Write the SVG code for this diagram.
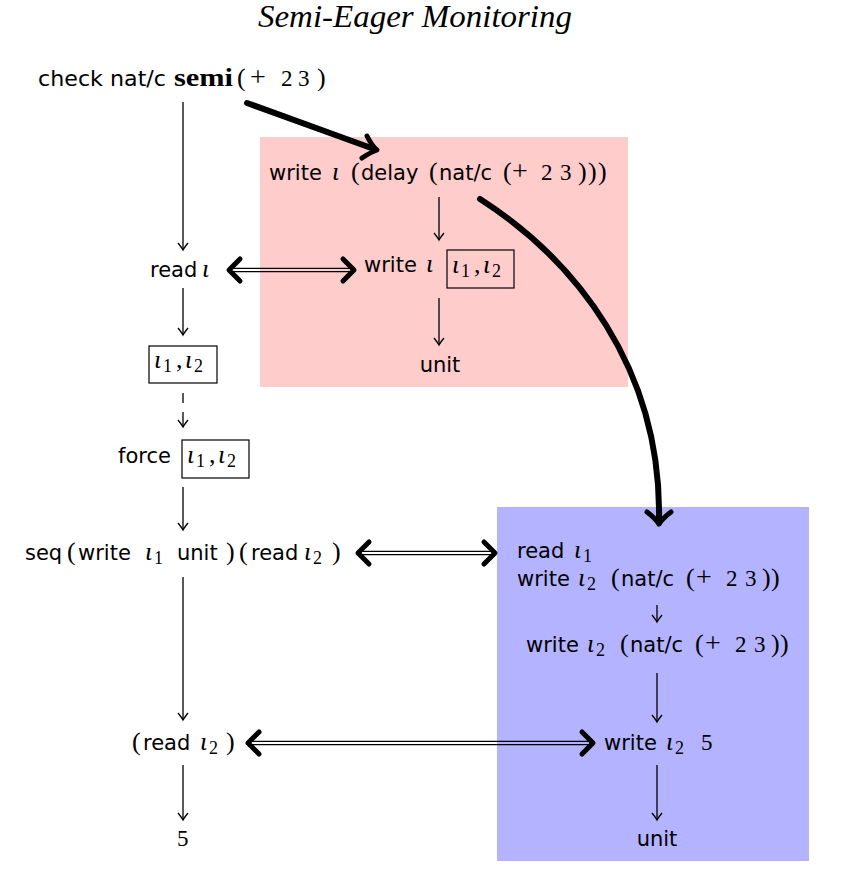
<svg xmlns="http://www.w3.org/2000/svg" width="842" height="869" viewBox="0 0 842 869">
<style>
text{fill:#000}
.t{font-family:"DejaVu Sans","Liberation Sans",sans-serif;font-size:21px}
.w{font-family:"DejaVu Sans","Liberation Sans",sans-serif;font-size:21px}
.m{font-family:"Liberation Serif","DejaVu Serif",serif;font-size:26px}
.d{font-family:"Liberation Serif","DejaVu Serif",serif;font-size:23px}
.p{font-family:"Liberation Serif","DejaVu Serif",serif;font-size:28px}
.i{font-family:"Liberation Serif","DejaVu Serif",serif;font-style:italic;font-size:26px}
.s{font-family:"Liberation Serif","DejaVu Serif",serif;font-size:18px}
.b{font-family:"Liberation Serif","DejaVu Serif",serif;font-weight:bold;font-size:25px}
.ti{font-family:"Liberation Serif","Times New Roman",serif;font-style:italic;font-size:31px}
.thin{stroke:#000;stroke-width:1.3;fill:none}
.thick{stroke:#000;stroke-width:6;fill:none;stroke-linecap:round}
.head{fill:none;stroke:#000;stroke-width:5;stroke-linecap:round;stroke-linejoin:round}
.box{fill:none;stroke:#000;stroke-width:1.2}
</style>
<defs>
<marker id="ah" viewBox="-8 -6 10 12" markerWidth="10" markerHeight="12" refX="0" refY="0" orient="auto" markerUnits="userSpaceOnUse">
<path d="M-7,-5 Q-2,-1 0,0 Q-2,1 -7,5" fill="none" stroke="#000" stroke-width="1.3"/>
</marker>
</defs>
<rect x="260" y="137" width="368" height="250" fill="#ffcccc"/>
<rect x="497" y="507" width="312" height="354" fill="#b3b3ff"/>
<text class="ti" x="258" y="27" textLength="314" lengthAdjust="spacingAndGlyphs">Semi-Eager Monitoring</text>

<g id="n-check">
<text class="t" x="38" y="86" textLength="128" lengthAdjust="spacingAndGlyphs">check nat/c</text>
<text class="b" x="174" y="86" textLength="59" lengthAdjust="spacingAndGlyphs">semi</text>
<text y="86"><tspan class="m" x="237">(</tspan><tspan class="p" x="250">+</tspan><tspan class="d" x="281">2</tspan><tspan class="d" x="298">3</tspan><tspan class="m" x="317">)</tspan></text>
</g>
<g id="n-read"><text y="277"><tspan class="w" x="150">read</tspan><tspan class="i" x="202">ι</tspan></text></g>
<g id="n-loc"><rect class="box" x="149" y="346" width="68" height="37"/><text y="368"><tspan class="i" x="154">ι</tspan><tspan class="s" x="163" y="372">1</tspan><tspan class="m" x="176" y="368">,</tspan><tspan class="i" x="185">ι</tspan><tspan class="s" x="194" y="372">2</tspan></text></g>
<g id="n-force"><text class="t" x="118" y="463">force</text><rect class="box" x="182" y="440" width="67" height="38"/><text y="463"><tspan class="i" x="187">ι</tspan><tspan class="s" x="196" y="467">1</tspan><tspan class="m" x="209" y="463">,</tspan><tspan class="i" x="218">ι</tspan><tspan class="s" x="227" y="467">2</tspan></text></g>
<g id="n-seq"><text y="560"><tspan class="w" x="25">seq</tspan><tspan class="m" x="67">(</tspan><tspan class="w" x="78">write</tspan><tspan class="i" x="145">ι</tspan><tspan class="s" x="154" y="564">1</tspan><tspan class="w" x="177" y="560">unit</tspan><tspan class="m" x="226">)</tspan><tspan class="m" x="239">(</tspan><tspan class="w" x="251">read</tspan><tspan class="i" x="304">ι</tspan><tspan class="s" x="313" y="564">2</tspan><tspan class="m" x="332" y="560">)</tspan></text></g>
<g id="n-read2"><text y="750"><tspan class="m" x="132">(</tspan><tspan class="w" x="143">read</tspan><tspan class="i" x="200">ι</tspan><tspan class="s" x="209" y="754">2</tspan><tspan class="m" x="226" y="750">)</tspan></text></g>
<g id="n-five"><text class="d" x="177" y="846">5</text></g>

<g id="n-write-delay"><text y="180"><tspan class="w" x="269">write</tspan><tspan class="i" x="332">ι</tspan><tspan class="m" x="351">(</tspan><tspan class="w" x="361">delay</tspan><tspan class="m" x="429">(</tspan><tspan class="w" x="439">nat/c</tspan><tspan class="m" x="503">(</tspan><tspan class="p" x="512">+</tspan><tspan class="d" x="541">2</tspan><tspan class="d" x="560">3</tspan><tspan class="m" x="578">)</tspan><tspan class="m" x="588">)</tspan><tspan class="m" x="598">)</tspan></text></g>
<g id="n-write-loc"><text y="272"><tspan class="w" x="364">write</tspan><tspan class="i" x="426">ι</tspan></text><rect class="box" x="447" y="250" width="67" height="38"/><text y="273"><tspan class="i" x="452">ι</tspan><tspan class="s" x="461" y="277">1</tspan><tspan class="m" x="474" y="273">,</tspan><tspan class="i" x="483">ι</tspan><tspan class="s" x="492" y="277">2</tspan></text></g>
<g id="n-unit1"><text class="t" x="440" y="372" text-anchor="middle">unit</text></g>

<g id="n-blue1"><text y="558"><tspan class="w" x="517">read</tspan><tspan class="i" x="574">ι</tspan><tspan class="s" x="583" y="562">1</tspan></text>
<text y="586"><tspan class="w" x="517">write</tspan><tspan class="i" x="578">ι</tspan><tspan class="s" x="587" y="590">2</tspan><tspan class="m" x="611" y="586">(</tspan><tspan class="w" x="621">nat/c</tspan><tspan class="m" x="686">(</tspan><tspan class="p" x="696">+</tspan><tspan class="d" x="726">2</tspan><tspan class="d" x="745">3</tspan><tspan class="m" x="762">)</tspan><tspan class="m" x="771">)</tspan></text></g>
<g id="n-blue2"><text y="652"><tspan class="w" x="526">write</tspan><tspan class="i" x="587">ι</tspan><tspan class="s" x="596" y="656">2</tspan><tspan class="m" x="620" y="652">(</tspan><tspan class="w" x="630">nat/c</tspan><tspan class="m" x="695">(</tspan><tspan class="p" x="705">+</tspan><tspan class="d" x="735">2</tspan><tspan class="d" x="754">3</tspan><tspan class="m" x="771">)</tspan><tspan class="m" x="780">)</tspan></text></g>
<g id="n-blue3"><text y="750"><tspan class="w" x="604">write</tspan><tspan class="i" x="666">ι</tspan><tspan class="s" x="675" y="754">2</tspan><tspan class="d" x="701" y="750">5</tspan></text></g>
<g id="n-unit2"><text class="t" x="657" y="846" text-anchor="middle">unit</text></g>

<g id="connectors">
<line class="thin" x1="183" y1="102" x2="183" y2="250" marker-end="url(#ah)"/>
<line class="thin" x1="183" y1="288" x2="183" y2="335" marker-end="url(#ah)"/>
<line class="thin" x1="183" y1="393" x2="183" y2="403"/>
<line class="thin" x1="183" y1="412" x2="183" y2="427" marker-end="url(#ah)"/>
<line class="thin" x1="183" y1="487" x2="183" y2="530" marker-end="url(#ah)"/>
<line class="thin" x1="183" y1="577" x2="183" y2="720" marker-end="url(#ah)"/>
<line class="thin" x1="183" y1="765" x2="183" y2="820" marker-end="url(#ah)"/>
<line class="thin" x1="439" y1="197" x2="439" y2="240" marker-end="url(#ah)"/>
<line class="thin" x1="439" y1="298" x2="439" y2="345" marker-end="url(#ah)"/>
<line class="thin" x1="657" y1="605" x2="657" y2="622" marker-end="url(#ah)"/>
<line class="thin" x1="657" y1="673" x2="657" y2="722" marker-end="url(#ah)"/>
<line class="thin" x1="657" y1="765" x2="657" y2="820" marker-end="url(#ah)"/>

<g stroke="#000" stroke-width="1.3">
<line x1="232" y1="268.3" x2="352" y2="268.3"/><line x1="232" y1="271.7" x2="352" y2="271.7"/>
<line x1="360" y1="551.3" x2="493" y2="551.3"/><line x1="360" y1="554.7" x2="493" y2="554.7"/>
<line x1="250" y1="741.3" x2="591" y2="741.3"/><line x1="250" y1="744.7" x2="591" y2="744.7"/>
</g>
<g class="head">
<path d="M240,259 Q232,267 229,270 Q232,273 240,281"/>
<path d="M343,259 Q351,267 354,270 Q351,273 343,281"/>
<path d="M369,542 Q361,550 358,553 Q361,556 369,564"/>
<path d="M484,542 Q492,550 495,553 Q492,556 484,564"/>
<path d="M259,732 Q251,740 248,743 Q251,746 259,754"/>
<path d="M582,732 Q590,740 593,743 Q590,746 582,754"/>
</g>
<path class="thick" d="M247,103 L374,149"/>
<path class="head" d="M367,136 Q372,146 377,150 Q371,152 362,158"/>
<path class="thick" d="M480,199 C575,260 662,368 659,521"/>
<path class="head" d="M647,512 Q655,518 659,524 Q663,518 671,512"/>
</g>
</svg>
